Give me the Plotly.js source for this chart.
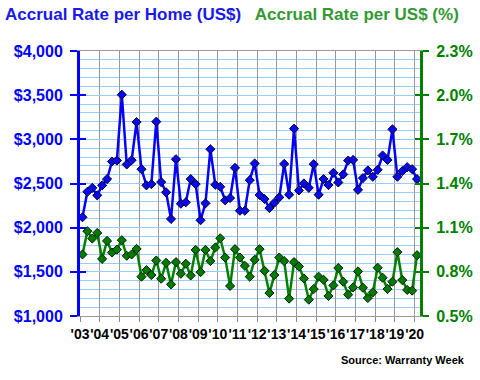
<!DOCTYPE html>
<html>
<head>
<meta charset="utf-8">
<script src="https://cdn.plot.ly/plotly-3.0.1.min.js"></script>
<style>html,body{margin:0;padding:0;background:#fff;}#chart{width:480px;height:380px;}</style>
</head>
<body>
<div id="chart"></div>
<script>
// Quarterly data, 2003 Q1 through 2020 Q1
const quarterIndex = Array.from({length: 69}, (_, i) => i);
const accrualPerHome = [
  2118, 2406, 2451, 2366, 2479, 2550, 2749, 2760,
  3505, 2715, 2764, 3196, 2662, 2479, 2493, 3200,
  2516, 2400, 2098, 2775, 2271, 2287, 2550, 2493,
  2084, 2275, 2888, 2485, 2463, 2309, 2335, 2677,
  2192, 2192, 2538, 2727, 2369, 2324, 2222, 2282,
  2343, 2722, 2373, 3121, 2422, 2501, 2451, 2719,
  2373, 2550, 2482, 2621, 2512, 2603, 2760, 2767,
  2428, 2561, 2648, 2576, 2655, 2817, 2767, 3113,
  2576, 2640, 2685, 2662, 2550
];
const accrualPerDollar = [
  0.918, 1.076, 1.026, 1.064, 0.888, 1.010, 0.931, 0.951,
  1.015, 0.909, 0.918, 0.956, 0.767, 0.812, 0.778, 0.877,
  0.753, 0.861, 0.715, 0.866, 0.787, 0.855, 0.775, 0.949,
  0.798, 0.949, 0.873, 0.965, 1.028, 0.897, 0.704, 0.954,
  0.897, 0.841, 0.767, 0.882, 0.954, 0.807, 0.656, 0.778,
  0.897, 0.873, 0.618, 0.866, 0.836, 0.755, 0.611, 0.683,
  0.767, 0.746, 0.636, 0.708, 0.826, 0.733, 0.645, 0.694,
  0.803, 0.692, 0.622, 0.660, 0.828, 0.760, 0.683, 0.733,
  0.934, 0.744, 0.677, 0.672, 0.913
];
const yearTickVals = [-0.5, 3.5, 7.5, 11.5, 15.5, 19.5, 23.5, 27.5, 31.5, 35.5, 39.5, 43.5, 47.5, 51.5, 55.5, 59.5, 63.5, 67.5];
const yearTickText = ["'03","'04","'05","'06","'07","'08","'09","'10","'11","'12","'13","'14","'15","'16","'17","'18","'19","'20"];
const leftTickVals = [1000, 1500, 2000, 2500, 3000, 3500, 4000];
const leftTickText = ['$1,000','$1,500','$2,000','$2,500','$3,000','$3,500','$4,000'];
const rightTickVals = [0.5, 0.8, 1.1, 1.4, 1.7, 2.0, 2.3];
const rightTickText = ['0.5%','0.8%','1.1%','1.4%','1.7%','2.0%','2.3%'];

const FONT = 'Arial, "Liberation Sans", sans-serif';
const BLUE = '#0000ff';
const GREEN = '#008000';

const traces = [
  {
    x: quarterIndex, y: accrualPerHome, type: 'scatter', mode: 'lines+markers',
    line: {color: BLUE, width: 2.5},
    marker: {symbol: 'diamond', size: 7, color: '#0a0aee', line: {color: '#000033', width: 1}},
    xaxis: 'x', yaxis: 'y', hoverinfo: 'skip'
  },
  {
    x: quarterIndex, y: accrualPerDollar, type: 'scatter', mode: 'lines+markers',
    line: {color: GREEN, width: 2.5},
    marker: {symbol: 'diamond', size: 7, color: '#007a00', line: {color: '#002200', width: 1}},
    xaxis: 'x', yaxis: 'y2', hoverinfo: 'skip'
  },
  {x: [], y: [], xaxis: 'x', yaxis: 'y3', type: 'scatter', showlegend: false},
  {x: [], y: [], xaxis: 'x', yaxis: 'y4', type: 'scatter', showlegend: false}
];

const layout = {
  width: 480, height: 380,
  margin: {l: 80, r: 60, t: 51, b: 64},
  paper_bgcolor: '#ffffff', plot_bgcolor: '#ffffff',
  showlegend: false,
  font: {family: FONT},
  title: {
    text: '<b><span style="color:#1a1ae6">Accrual Rate per Home (US$)</span>   <span style="color:#339933">Accrual Rate per US$ (%)</span></b>',
    font: {family: FONT, size: 17},
    xref: 'container', x: 5/480, xanchor: 'left',
    yref: 'container', y: 1 - 14/380, yanchor: 'middle'
  },
  xaxis: {
    range: [-0.5, 68.6],
    tickmode: 'array', tickvals: yearTickVals, ticktext: yearTickText,
    ticks: 'outside', ticklen: 5, tickcolor: '#888888', tickwidth: 1,
    showgrid: true, gridcolor: '#999999', gridwidth: 1,
    showline: true, linecolor: '#999999', linewidth: 1, mirror: true,
    zeroline: false,
    tickfont: {family: FONT, size: 14, color: '#000000', weight: 'bold'},
    tickangle: 0
  },
  yaxis: {
    range: [1000, 4000],
    tickmode: 'array', tickvals: leftTickVals, ticktext: leftTickText,
    ticks: 'outside', ticklen: 7, tickwidth: 2, tickcolor: BLUE,
    showline: true, linecolor: BLUE, linewidth: 3,
    showgrid: true, gridcolor: '#99ccff', gridwidth: 1,
    minor: {tickmode: 'linear', tick0: 1000, dtick: 100, showgrid: true, gridcolor: '#99ccff', gridwidth: 1, ticks: ''},
    zeroline: false,
    tickfont: {family: FONT, size: 16, color: BLUE, weight: 'bold'},
    ticklabelstandoff: 4
  },
  yaxis2: {
    range: [0.5, 2.3], overlaying: 'y', side: 'right',
    tickmode: 'array', tickvals: rightTickVals, ticktext: rightTickText,
    ticks: 'outside', ticklen: 6, tickwidth: 2, tickcolor: GREEN,
    showline: true, linecolor: GREEN, linewidth: 3,
    showgrid: false, zeroline: false,
    tickfont: {family: FONT, size: 16, color: GREEN, weight: 'bold'},
    ticklabelstandoff: 4
  },
  yaxis3: {
    range: [1000, 4000], overlaying: 'y', side: 'left',
    tickmode: 'array', tickvals: leftTickVals,
    ticks: 'inside', ticklen: 6, tickwidth: 2, tickcolor: BLUE,
    showticklabels: false, showgrid: false, showline: false, zeroline: false
  },
  yaxis4: {
    range: [0.5, 2.3], overlaying: 'y', side: 'right',
    tickmode: 'array', tickvals: rightTickVals,
    ticks: 'inside', ticklen: 5, tickwidth: 2, tickcolor: GREEN,
    showticklabels: false, showgrid: false, showline: false, zeroline: false
  },
  annotations: [{
    text: '<b>Source: Warranty Week</b>',
    xref: 'paper', yref: 'paper', x: 1.137, y: -0.165,
    xanchor: 'right', yanchor: 'middle', showarrow: false,
    font: {family: FONT, size: 11, color: '#000000'}
  }]
};

Plotly.newPlot('chart', traces, layout, {staticPlot: true, displayModeBar: false});
</script>
</body>
</html>
